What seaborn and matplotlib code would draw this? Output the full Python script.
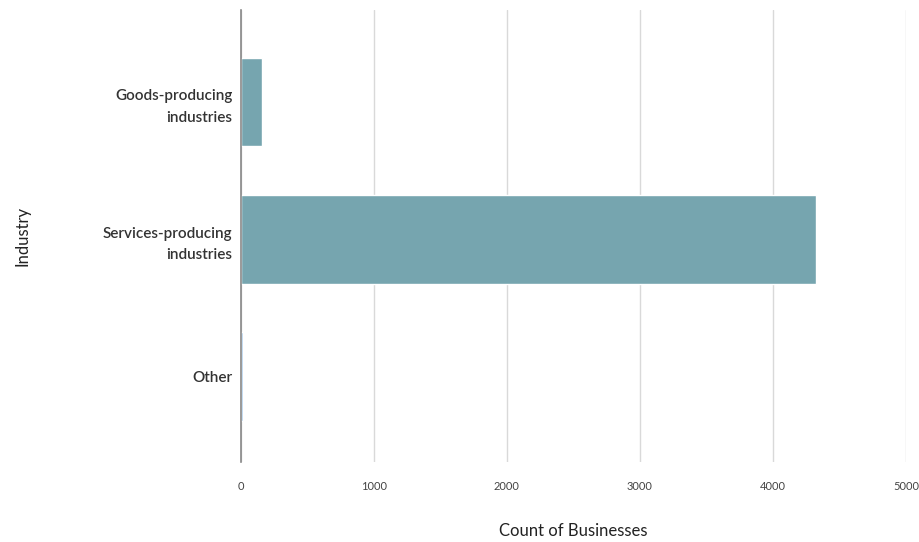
import matplotlib
matplotlib.use("Agg")
import matplotlib.pyplot as plt
import seaborn as sns
import pandas as pd

industries = ["Goods-producing\nindustries", "Services-producing\nindustries", "Other"]
counts = [158, 4325, 15]
bar_colors = ["#76a5af", "#76a5af", "#9fc5e8"]
x_ticks = [0, 1000, 2000, 3000, 4000, 5000]

df = pd.DataFrame({"Industry": industries, "Count of Businesses": counts})

sns.set_style("white")
plt.rcParams["font.family"] = ["Lato", "DejaVu Sans"]

fig = plt.figure(figsize=(9.19, 5.42), dpi=100)
ax = fig.add_axes([0.262, 0.148, 0.724, 0.834])

sns.barplot(data=df, y="Industry", x="Count of Businesses", hue="Industry",
            palette=bar_colors, orient="h", width=0.645, legend=False,
            saturation=1, ax=ax)

ax.set_xlim(0, 5000)
ax.set_ylim(2.62, -0.67)
ax.set_xticks(x_ticks)
ax.set_xticklabels([str(t) for t in x_ticks], fontsize=8, color="#444444")
ax.tick_params(axis="y", labelsize=11, colors="#333333", length=0, pad=6)
ax.tick_params(axis="x", length=0, pad=14)
for lab in ax.get_yticklabels():
    lab.set_fontweight("semibold")
    lab.set_horizontalalignment("right")
    lab.set_multialignment("right")
    lab.set_linespacing(1.7)

ax.grid(axis="x", color="#d9d9d9", linewidth=1)
ax.set_axisbelow(True)
for s in ["top", "right", "bottom"]:
    ax.spines[s].set_visible(False)
ax.spines["left"].set_color("#888888")
ax.spines["left"].set_linewidth(1.2)

ax.set_xlabel("Count of Businesses", fontsize=12, color="#222222", labelpad=22)
ax.set_ylabel("Industry", fontsize=12, color="#222222", labelpad=52)

fig.savefig("out.png", dpi=100)
